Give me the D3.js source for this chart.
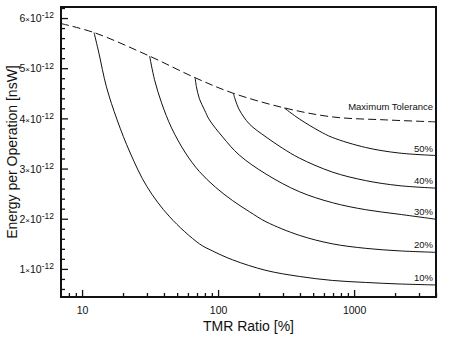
<!DOCTYPE html>
<html>
<head>
<script type="text/javascript" src="https://d3js.org/d3.v7.min.js"></script>
<style>
  body { margin: 0; background: #fff; }
  text { font-family: "Liberation Sans", Arial, Helvetica, sans-serif; fill: #111; }
  .curve { fill: none; stroke: #111; stroke-width: 1px; }
  .dash { fill: none; stroke: #111; stroke-width: 1px; stroke-dasharray: 8,4; }
</style>
</head>
<body>
<div id="container"></div>
<script>
// values, energy in units of 1e-12
var tolTmr    = [7, 12.25, 31.4, 67.8, 129.5, 306, 689, 1705, 4000];
var tolEnergy = [5.89, 5.71, 5.24, 4.81, 4.50, 4.21, 4.03, 3.97, 3.93];

var tmr10    = [12.25, 13.3, 15.1, 18.1, 22.6, 30.0, 44.0, 72.9, 90.8, 128, 225, 395, 692, 1216, 2134, 4000];
var energy10 = [5.71, 5.30, 4.63, 3.97, 3.31, 2.64, 2.04, 1.50, 1.36, 1.18, 0.97, 0.85, 0.77, 0.73, 0.70, 0.68];

var tmr20    = [31.4, 34.1, 38.4, 45.5, 57.6, 72.9, 95.5, 128, 170, 225, 395, 692, 1216, 2134, 4000];
var energy20 = [5.24, 4.77, 4.31, 3.81, 3.31, 2.94, 2.63, 2.36, 2.14, 1.94, 1.67, 1.50, 1.41, 1.36, 1.33];

var tmr30    = [67.8, 69.3, 72.9, 79.4, 86.4, 108, 143, 225, 395, 692, 1216, 2134, 4000];
var energy30 = [4.81, 4.63, 4.39, 4.17, 3.97, 3.63, 3.27, 2.89, 2.54, 2.32, 2.18, 2.09, 1.99];

var tmr40    = [129.5, 133.9, 143.3, 169.6, 225, 296, 395, 692, 1216, 2134, 4000];
var energy40 = [4.50, 4.37, 4.17, 3.89, 3.63, 3.41, 3.21, 2.93, 2.76, 2.66, 2.61];

var tmr50    = [306, 395, 553, 692, 1216, 2134, 4000];
var energy50 = [4.21, 3.99, 3.75, 3.62, 3.42, 3.31, 3.26];

var curveNames = ["10%", "20%", "30%", "40%", "50%"];
var curveTmr = [tmr10, tmr20, tmr30, tmr40, tmr50];
var curveEnergy = [energy10, energy20, energy30, energy40, energy50];

var xMajor = [10, 100, 1000];
var xMinor = [8, 9, 20, 30, 40, 50, 60, 70, 80, 90, 200, 300, 400, 500, 600, 700, 800, 900, 2000, 3000, 4000];
var yMajor = [1, 2, 3, 4, 5, 6];
var yMinor = [0.6, 0.8, 1.2, 1.4, 1.6, 1.8, 2.2, 2.4, 2.6, 2.8, 3.2, 3.4, 3.6, 3.8, 4.2, 4.4, 4.6, 4.8, 5.2, 5.4, 5.6, 5.8, 6.2];

var W = 460, H = 337;
var pLeft = 61, pRight = 436, pTop = 7, pBottom = 297;

var svg = d3.select("#container").append("svg")
  .attr("width", W).attr("height", H);

var x = d3.scaleLog().domain([7, 4000]).range([pLeft, pRight]);
var y = d3.scaleLinear().domain([0.44, 6.22]).range([pBottom, pTop]);

// axes, ticks pointing inward
var xa = svg.append("g").attr("transform", "translate(0," + pBottom + ")")
  .call(d3.axisBottom(x).tickValues(xMajor).tickSize(-7).tickPadding(10).tickFormat(d3.format("d")));
svg.append("g").attr("transform", "translate(0," + pBottom + ")")
  .call(d3.axisBottom(x).tickValues(xMinor).tickSize(-4).tickFormat(""));

var ya = svg.append("g").attr("transform", "translate(" + pLeft + ",0)")
  .call(d3.axisLeft(y).tickValues(yMajor).tickSize(-7).tickPadding(7));
svg.append("g").attr("transform", "translate(" + pLeft + ",0)")
  .call(d3.axisLeft(y).tickValues(yMinor.filter(function(v) { return y(v) > pTop && y(v) < pBottom; })).tickSize(-4).tickFormat(""));

svg.selectAll(".domain").remove();
svg.selectAll(".tick line").attr("stroke", "#111").attr("stroke-width", 1.3);
xa.selectAll("text").style("font-size", "10.5px").attr("fill", "#111");

// y tick labels with superscript exponent
ya.selectAll(".tick text").each(function(d) {
  var t = d3.select(this).text(null)
    .attr("dy", "0.35em").style("font-size", "10.5px").attr("fill", "#111");
  t.append("tspan").text(d);
  t.append("tspan").style("font-size", "8px").text("\u00d7");
  t.append("tspan").text("10");
  t.append("tspan").attr("dy", "-0.45em").style("font-size", "8.5px").text("-12");
});

// curves
var line = d3.line()
  .x(function(p) { return x(p[0]); })
  .y(function(p) { return y(p[1]); })
  .curve(d3.curveCatmullRom.alpha(0.5));

svg.append("path").attr("class", "dash")
  .datum(d3.zip(tolTmr, tolEnergy))
  .attr("d", line);

curveTmr.forEach(function(t, i) {
  var pts = d3.zip(t, curveEnergy[i]);
  svg.append("path").attr("class", "curve").datum(pts).attr("d", line);
  var last = pts[pts.length - 1];
  svg.append("text")
    .attr("x", x(last[0]) - 3)
    .attr("y", y(last[1]) - 4)
    .attr("text-anchor", "end")
    .style("font-size", "9.5px")
    .text(curveNames[i]);
});

svg.append("text")
  .attr("x", x(4000) - 3)
  .attr("y", y(tolEnergy[tolEnergy.length - 1]) - 12)
  .attr("text-anchor", "end")
  .style("font-size", "9.5px")
  .text("Maximum Tolerance");

// frame
svg.append("rect")
  .attr("x", pLeft).attr("y", pTop)
  .attr("width", pRight - pLeft).attr("height", pBottom - pTop)
  .attr("fill", "none").attr("stroke", "#111").attr("stroke-width", 2);

// axis titles
svg.append("text")
  .attr("x", (pLeft + pRight) / 2).attr("y", 331)
  .attr("text-anchor", "middle").style("font-size", "14px")
  .text("TMR Ratio [%]");

svg.append("text")
  .attr("transform", "translate(17," + ((pTop + pBottom) / 2) + ") rotate(-90)")
  .attr("text-anchor", "middle").style("font-size", "14px")
  .text("Energy per Operation [nsW]");
</script>
</body>
</html>
